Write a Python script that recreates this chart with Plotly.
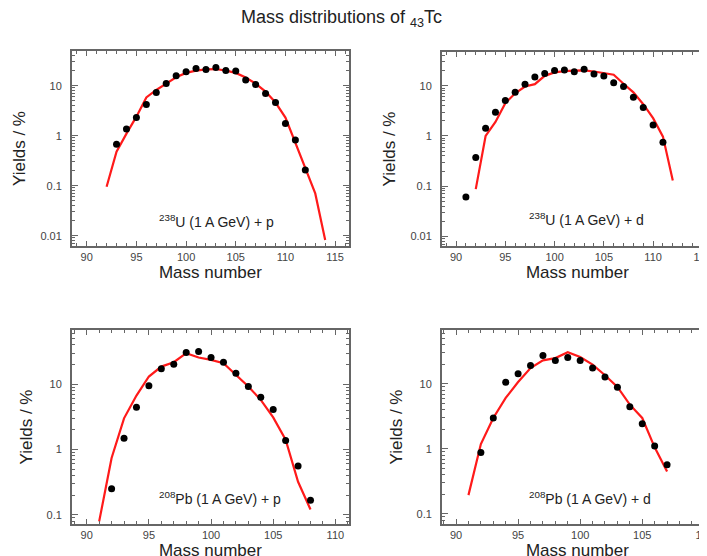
import plotly.graph_objects as go

# 238U (1 A GeV) + p
u_p_mass = list(range(93, 113))
u_p_yield = [0.67, 1.36, 2.3, 4.2, 7.3, 11.1, 15.8, 19, 22, 21, 23, 20, 19.6, 13, 10.6, 7.0, 4.6, 1.76, 0.82, 0.205]
u_p_calc_mass = list(range(92, 115))
u_p_calc = [0.095, 0.48, 1.1, 2.4, 5.8, 8.2, 11, 14.7, 18, 20, 21.2, 21.5, 20, 18, 14.5, 11, 7.6, 4.6, 2.3, 0.7, 0.22, 0.07, 0.0082]

# 238U (1 A GeV) + d
u_d_mass = list(range(91, 112))
u_d_yield = [0.061, 0.37, 1.42, 2.97, 5.1, 7.4, 10.8, 14.9, 17.6, 20.3, 20.6, 19, 21.5, 17.1, 15.6, 11.5, 9.7, 5.9, 3.7, 1.66, 0.75]
u_d_calc_mass = list(range(92, 113))
u_d_calc = [0.087, 1.0, 1.9, 4.5, 7.1, 9.7, 10.8, 15.8, 18.5, 19.6, 20, 20.3, 19.3, 17.9, 16.6, 11, 7.4, 4.3, 2.26, 0.97, 0.13]

# 208Pb (1 A GeV) + p
pb_p_mass = list(range(92, 109))
pb_p_yield = [0.25, 1.49, 4.45, 9.5, 17.2, 20.2, 30.5, 31.6, 25.6, 21.7, 14.7, 9.2, 6.3, 4.1, 1.37, 0.56, 0.166]
pb_p_calc_mass = list(range(91, 109))
pb_p_calc = [0.079, 0.74, 3.0, 6.7, 13.1, 18.6, 21.7, 29.8, 25.6, 23.6, 21, 13.9, 9.2, 5.75, 3.1, 1.41, 0.32, 0.12]

# 208Pb (1 A GeV) + d
pb_d_mass = list(range(92, 108))
pb_d_yield = [0.88, 3.0, 10.6, 14.4, 19.3, 27.5, 23, 25.6, 23, 17.6, 12.8, 8.9, 4.45, 2.44, 1.11, 0.57]
pb_d_calc_mass = list(range(91, 108))
pb_d_calc = [0.195, 1.19, 3.0, 6.1, 10.7, 17.6, 23.1, 25, 30.7, 26, 19.8, 13.6, 9.0, 4.8, 3.0, 1.06, 0.45]

W, H = 707, 556
FRAME = "#666666"
FONT = "Liberation Sans, Arial, sans-serif"

panels = [
    # data, calc, label, x px, y px, x range, y range (log), y ticks, x ticks, label centre
    (u_p_mass, u_p_yield, u_p_calc_mass, u_p_calc, "<sup>238</sup>U (1 A GeV) + p",
     (64, 342), (43, 238), [88.5, 116.4], [-2.206, 1.693], [0.01, 0.1, 1, 10], [90, 95, 100, 105, 110, 115], (209, 213)),
    (u_d_mass, u_d_yield, u_d_calc_mass, u_d_calc, "<sup>238</sup>U (1 A GeV) + d",
     (435, 707), (44, 238), [88.55, 116.08], [-2.194, 1.674], [0.01, 0.1, 1, 10], [90, 95, 100, 105, 110, 115], (580, 211)),
    (pb_p_mass, pb_p_yield, pb_p_calc_mass, pb_p_calc, "<sup>208</sup>Pb (1 A GeV) + p",
     (64, 342), (322, 516), [88.8, 111.1], [-1.142, 1.83], [0.1, 1, 10], [90, 95, 100, 105, 110], (213, 490)),
    (pb_d_mass, pb_d_yield, pb_d_calc_mass, pb_d_calc, "<sup>208</sup>Pb (1 A GeV) + d",
     (435, 707), (322, 516), [88.85, 110.7], [-1.154, 1.83], [0.1, 1, 10], [90, 95, 100, 105, 110], (584, 490)),
]

minor_vals = [m * 10 ** e for e in range(-3, 3) for m in range(2, 10)]

fig = go.Figure()
annotations = []
for i, (mx, my, cx, cy, label, xpx, ypx, xr, yr, yt, xt, lab) in enumerate(panels, start=1):
    xa = "x" if i == 1 else f"x{i}"
    ya = "y" if i == 1 else f"y{i}"
    fig.add_trace(go.Scatter(x=cx, y=cy, mode="lines", line=dict(color="#ff1a1a", width=2.2),
                             xaxis=xa, yaxis=ya, showlegend=False))
    fig.add_trace(go.Scatter(x=mx, y=my, mode="markers", marker=dict(color="black", size=7),
                             xaxis=xa, yaxis=ya, showlegend=False))
    xkey = "xaxis" if i == 1 else f"xaxis{i}"
    ykey = "yaxis" if i == 1 else f"yaxis{i}"
    fig.update_layout({
        xkey: dict(domain=[xpx[0] / W, xpx[1] / W], range=xr, anchor=ya,
                   showline=True, linecolor=FRAME, linewidth=1.5, mirror="allticks",
                   ticks="inside", ticklen=5, tickcolor=FRAME, tickvals=xt,
                   minor=dict(ticks="inside", ticklen=3, tickcolor=FRAME, dtick=1),
                   showgrid=False, zeroline=False,
                   tickfont=dict(size=11, color="#444444", family=FONT),
                   title=dict(text="Mass number", font=dict(size=17, color="#222222", family=FONT), standoff=0)),
        ykey: dict(domain=[1 - ypx[1] / H, 1 - ypx[0] / H], type="log", range=yr, anchor=xa,
                   showline=True, linecolor=FRAME, linewidth=1.5, mirror="allticks",
                   ticks="inside", ticklen=6, tickcolor=FRAME, tickvals=yt,
                   ticktext=[str(v) for v in yt],
                   minor=dict(ticks="inside", ticklen=3, tickcolor=FRAME, tickvals=minor_vals),
                   showgrid=False, zeroline=False, ticklabelstandoff=6,
                   tickfont=dict(size=11, color="#444444", family=FONT),
                   title=dict(text="Yields / %", font=dict(size=17, color="#222222", family=FONT), standoff=10)),
    })
    annotations.append(dict(text=label, x=lab[0] / W, y=1 - lab[1] / H, xref="paper", yref="paper",
                            xanchor="center", yanchor="middle", showarrow=False,
                            font=dict(size=14, color="#222222", family=FONT)))

annotations.append(dict(text="Mass distributions of <sub>43</sub>Tc", x=334 / W, y=1 - 10 / H,
                        xref="paper", yref="paper", xanchor="center", yanchor="middle", showarrow=False,
                        font=dict(size=18, color="#222222", family=FONT)))

fig.update_layout(width=W, height=H, margin=dict(l=0, r=0, t=0, b=0),
                  paper_bgcolor="white", plot_bgcolor="white",
                  annotations=annotations, font=dict(family=FONT))

fig.write_html("out.html")
